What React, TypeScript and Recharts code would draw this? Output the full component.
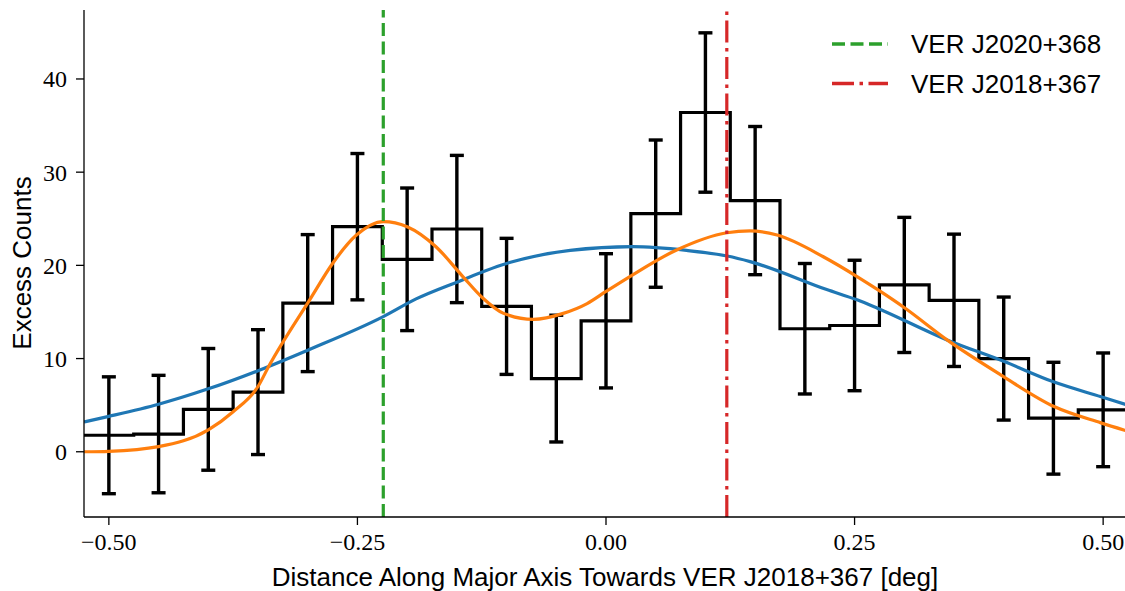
import React from 'react';
import { ComposedChart, Line, Scatter, ErrorBar, XAxis, YAxis, ReferenceLine, Legend, Label } from 'recharts';

// Histogram bins (centres in deg), excess counts and 1-sigma errors
const binCenters = [-0.5, -0.45, -0.4, -0.35, -0.3, -0.25, -0.2, -0.15, -0.1, -0.05, 0, 0.05, 0.1, 0.15, 0.2, 0.25, 0.3, 0.35, 0.4, 0.45, 0.5];
const counts = [1.77, 1.9, 4.55, 6.4, 15.95, 24.15, 20.65, 23.9, 15.6, 7.85, 14.05, 25.55, 36.4, 26.95, 13.2, 13.55, 17.9, 16.25, 10.0, 3.6, 4.5];
const errors = [6.27, 6.3, 6.53, 6.7, 7.35, 7.85, 7.65, 7.9, 7.3, 6.8, 7.2, 7.9, 8.55, 7.95, 7.0, 7.0, 7.25, 7.1, 6.6, 6.0, 6.1];
const binWidth = 0.05;

// Single-Gaussian fit (blue)
const singleX = [-0.525, -0.5, -0.45, -0.4, -0.35, -0.3, -0.224, -0.191, -0.15, -0.097, -0.036, 0.027, 0.081, 0.122, 0.145, 0.222, 0.2525, 0.273, 0.343, 0.4, 0.45, 0.498, 0.525];
const singleY = [3.2, 3.8, 5.1, 6.75, 8.7, 10.9, 14.5, 16.4, 18.2, 20.3, 21.6, 22.0, 21.6, 21.0, 20.4, 17.4, 16.3, 15.4, 12.0, 9.7, 7.5, 5.9, 5.0];

// Double-Gaussian fit (orange)
const doubleX = [-0.525, -0.5, -0.45, -0.4, -0.375, -0.35, -0.3385, -0.298, -0.275, -0.251, -0.224, -0.2, -0.171, -0.144, -0.124, -0.103, -0.073, -0.043, -0.019, 0.0, 0.024, 0.071, 0.1215, 0.145, 0.172, 0.219, 0.2525, 0.276, 0.2995, 0.343, 0.397, 0.4506, 0.4977, 0.525];
const doubleY = [0.0, 0.05, 0.55, 2.35, 4.3, 7.0, 9.3, 16.3, 20.2, 23.25, 24.7, 24.15, 22.0, 18.8, 16.5, 14.85, 14.2, 14.85, 15.9, 17.2, 18.8, 21.65, 23.5, 23.7, 23.25, 20.9, 18.8, 17.2, 15.5, 12.0, 8.25, 4.85, 3.1, 2.2];

// Source positions (vertical lines)
const sourceNames = ['VER J2020+368', 'VER J2018+367'];
const sourcePositions = [-0.224, 0.1215];
const sourceColors = ['#2ca02c', '#d62728'];
const sourceDashes = ['13 5.5', '22 5.5 3.5 5.5'];

const xTicks = [-0.5, -0.25, 0, 0.25, 0.5];
const yTicks = [0, 10, 20, 30, 40];
const xDomain: [number, number] = [-0.525, 0.525];
const yDomain: [number, number] = [-7.0, 47.4];

const histData = [
  ...binCenters.map((c, i) => ({ x: c - binWidth / 2, y: counts[i] })),
  { x: binCenters[binCenters.length - 1] + binWidth / 2, y: counts[counts.length - 1] },
];
const errData = binCenters.map((c, i) => ({ x: c, y: counts[i], err: errors[i] }));
const singleData = singleX.map((x, i) => ({ x, y: singleY[i] }));
const doubleData = doubleX.map((x, i) => ({ x, y: doubleY[i] }));

const serif = '"Liberation Serif", "DejaVu Serif", serif';
const sans = '"Liberation Sans", "DejaVu Sans", sans-serif';

const fmtX = (v: number) => (v < 0 ? '\u2212' : '') + Math.abs(v).toFixed(2);

const LegendContent = () => (
  <svg width={300} height={90} style={{ display: 'block' }}>
    {sourceNames.map((n, i) => (
      <g key={n}>
        <line x1={12} x2={68} y1={24 + i * 39.5} y2={24 + i * 39.5} stroke={sourceColors[i]} strokeWidth={3.4} strokeDasharray={sourceDashes[i]} />
        <text x={91} y={24 + i * 39.5} dominantBaseline="central" fontFamily={sans} fontSize={26} fill="#000">{n}</text>
      </g>
    ))}
  </svg>
);

export default function App() {
  return (
    <div style={{ position: 'absolute', left: 0, top: 0, width: 1125, height: 591, overflow: 'hidden', background: '#fff' }}>
      <ComposedChart width={1135} height={591} margin={{ top: 10, right: 7, bottom: 0, left: 0 }}>
        <XAxis
          dataKey="x"
          type="number"
          domain={xDomain}
          allowDataOverflow
          ticks={xTicks}
          tickFormatter={fmtX}
          height={74}
          tickSize={8}
          tickMargin={8}
          stroke="#000"
          strokeWidth={1.3}
          tick={{ fill: '#000', fontSize: 24, fontFamily: serif }}
        >
          <Label
            content={() => (
              <text x={605} y={586} textAnchor="middle" fontFamily={sans} fontSize={26} fill="#000">
                Distance Along Major Axis Towards VER J2018+367 [deg]
              </text>
            )}
          />
        </XAxis>
        <XAxis xAxisId="top" orientation="top" type="number" domain={xDomain} allowDataOverflow height={0} tick={false} tickLine={false} stroke="#000" strokeWidth={1.3} />
        <YAxis
          type="number"
          domain={yDomain}
          allowDataOverflow
          ticks={yTicks}
          width={84}
          tickSize={8}
          tickMargin={9}
          stroke="#000"
          strokeWidth={1.3}
          tick={{ fill: '#000', fontSize: 24, fontFamily: serif }}
        >
          <Label
            content={() => (
              <text x={22} y={263} transform="rotate(-90 22 263)" textAnchor="middle" dominantBaseline="central" fontFamily={sans} fontSize={26} fill="#000">
                Excess Counts
              </text>
            )}
          />
        </YAxis>
        <Line data={histData} dataKey="y" type="stepAfter" stroke="#000" strokeWidth={3.2} dot={false} isAnimationActive={false} legendType="none" />
        <Scatter data={errData} dataKey="y" shape={() => <g />} isAnimationActive={false} legendType="none">
          <ErrorBar dataKey="err" direction="y" width={7} stroke="#000" strokeWidth={3.4} isAnimationActive={false} />
        </Scatter>
        <Line data={singleData} dataKey="y" type="monotone" stroke="#1f77b4" strokeWidth={3.2} dot={false} isAnimationActive={false} legendType="none" />
        <Line data={doubleData} dataKey="y" type="monotone" stroke="#ff7f0e" strokeWidth={3.2} dot={false} isAnimationActive={false} legendType="none" />
        {sourcePositions.map((p, i) => (
          <ReferenceLine key={sourceNames[i]} x={p} stroke={sourceColors[i]} strokeWidth={3.2} strokeDasharray={sourceDashes[i]} />
        ))}
        <Legend layout="vertical" align="center" verticalAlign="middle" content={LegendContent} wrapperStyle={{ left: 820, top: 20, width: 300, height: 90 }} />
      </ComposedChart>
    </div>
  );
}
